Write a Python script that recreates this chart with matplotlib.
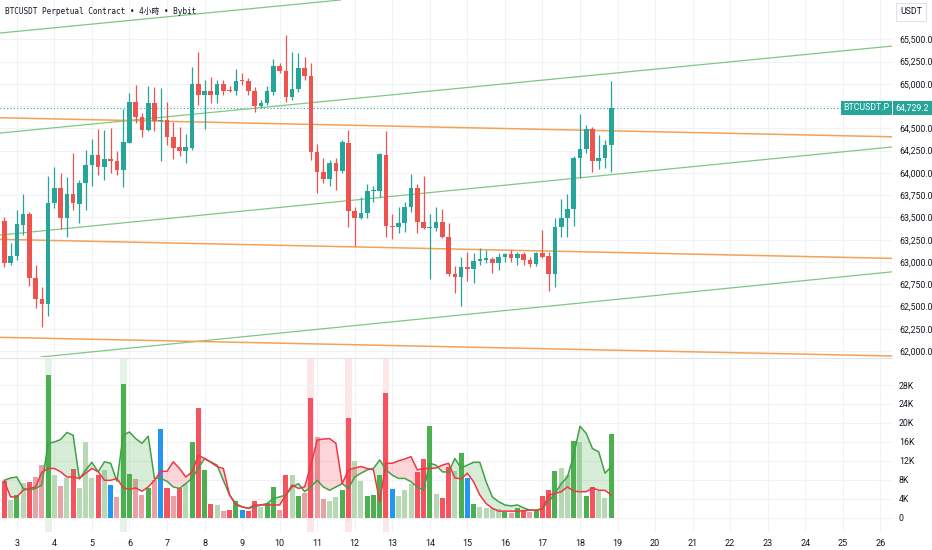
import numpy as np
import matplotlib.pyplot as plt

plt.rcParams['font.family'] = ['Roboto', 'DejaVu Sans']

# 4h candles, BTCUSDT.P
opens = [63463, 62985, 63067, 63415, 63538, 62823, 62587, 62528, 63658, 63834,
         63490, 63763, 63651, 63883, 64088, 64201, 64063, 64153, 64137, 64032,
         64339, 64799, 64624, 64481, 64788, 64586, 64593, 64406, 64287, 64249,
         64276, 64998, 64875, 64920, 64875, 64995, 64931, 64920, 65043, 65032,
         64920, 64751, 64781, 64912, 65200, 65147, 64855, 64938, 65174, 65088,
         64240, 64010, 63935, 64108, 64021, 64339, 63575, 63490, 63546, 63797,
         63797, 64201, 63407, 63389, 63441, 63614, 63834, 63449, 63378, 63384,
         63452, 63283, 62861, 62828, 62947, 62921, 63014, 63022, 63037, 62985,
         63059, 63089, 63048, 63089, 63022, 62977, 63104, 63067, 62865, 63389,
         63490, 63591, 64164, 64265, 64489, 64137, 64164, 64313]
highs = [63508, 63209, 63583, 63760, 63564, 62966, 62722, 63965, 64063, 63995,
         63957, 64220, 63920, 64257, 64377, 64489, 64482, 64501, 64249, 64714,
         64900, 64987, 64669, 64976, 64968, 64950, 64799, 64575, 64519, 64436,
         65192, 65361, 65043, 65073, 65043, 65043, 64976, 65163, 65125, 65062,
         64968, 64818, 64976, 65275, 65230, 65548, 65361, 65343, 65298, 65230,
         64328, 64164, 64145, 64164, 64369, 64481, 63620, 63733, 63872, 63853,
         64227, 64470, 63538, 63620, 63677, 63984, 63872, 63965, 63538, 63614,
         63591, 63441, 62954, 63052, 63115, 63104, 63153, 63134, 63059, 63104,
         63104, 63134, 63115, 63115, 63052, 63115, 63359, 63115, 63490, 63703,
         63763, 64190, 64661, 64538, 64512, 64425, 64369, 65032]
lows = [62947, 62966, 63022, 63302, 62730, 62479, 62266, 62396, 63602, 63370,
        63283, 63583, 63434, 63583, 63853, 63976, 63920, 63995, 63976, 63845,
        64332, 64557, 64406, 64474, 64474, 64133, 64313, 64153, 64190, 64114,
        64257, 64762, 64489, 64788, 64781, 64875, 64908, 64875, 64987, 64875,
        64687, 64725, 64762, 64875, 65125, 64799, 64818, 64912, 65043, 64145,
        63777, 63883, 63853, 63808, 64000, 63396, 63179, 63482, 63490, 63673,
        63733, 63283, 63254, 63328, 63340, 63564, 63322, 63367, 62805, 63347,
        63265, 62842, 62655, 62505, 62790, 62760, 62966, 62992, 62879, 62910,
        63003, 63003, 62966, 62966, 62940, 62954, 63041, 62677, 62715, 63283,
        63277, 63404, 63939, 64227, 64013, 64040, 64052, 64013]
closes = [62991, 63067, 63423, 63538, 62823, 62584, 62524, 63658, 63834, 63490,
          63763, 63658, 63883, 64088, 64201, 64063, 64153, 64130, 64032, 64343,
          64799, 64624, 64481, 64788, 64586, 64599, 64406, 64276, 64249, 64287,
          64998, 64875, 64920, 64875, 64995, 64920, 64916, 65035, 65028, 64920,
          64751, 64788, 64920, 65200, 65147, 64855, 64938, 65174, 65088, 64240,
          64007, 63935, 64108, 64021, 64350, 63575, 63497, 63553, 63797, 63808,
          64209, 63404, 63389, 63441, 63614, 63834, 63449, 63378, 63396, 63452,
          63283, 62861, 62828, 62947, 62921, 63014, 63030, 63041, 62985, 63059,
          63089, 63048, 63089, 63022, 62977, 63104, 63059, 62865, 63389, 63490,
          63591, 64164, 64265, 64489, 64137, 64164, 64313, 64729.2]

# volume in K and its colour code (G dark green, g light green, R red, r pink, B blue)
volume = [7.7, 3.7, 4.8, 7.4, 7.5, 8.6, 11.1, 30.1, 9.1, 6.8,
          8.3, 10.3, 6.2, 16.0, 8.3, 9.1, 10.1, 6.9, 4.4, 28.2,
          9.2, 8.2, 4.8, 6.3, 7.9, 18.8, 6.3, 4.6, 6.3, 7.2,
          16.0, 23.2, 10.1, 2.9, 2.7, 1.5, 1.6, 3.5, 1.6, 1.5,
          3.6, 2.3, 3.2, 6.5, 1.6, 9.1, 9.1, 4.6, 5.3, 25.2,
          17.0, 3.9, 3.5, 4.4, 5.8, 21.0, 12.0, 7.7, 4.6, 4.8,
          9.0, 26.4, 6.0, 4.6, 5.8, 7.2, 9.7, 12.5, 19.3, 5.0,
          4.2, 10.8, 9.8, 13.7, 8.3, 3.0, 2.3, 2.1, 2.0, 1.8,
          1.3, 1.1, 2.1, 1.4, 1.3, 1.6, 4.6, 5.8, 9.9, 10.4,
          9.1, 16.2, 15.9, 4.6, 6.5, 5.6, 4.1, 17.6]
vol_codes = list("RgGgRrrGgr" "gRgggRgBrG" "GrrGrBRrRg" "GRGRgrRGBR"
                 "RgGGrRgGrR" "rrggGRggGG" "GRBgggRRGg" "RRgGBGgggg"
                 "GrGRrGRRGg" "gGgGRggG")
green_ma = [7.9, 8.4, 8.6, 6.2, 5.8, 6.2, 6.9, 15.7, 16.0, 16.5,
            18.0, 17.4, 8.2, 10.1, 11.7, 9.7, 11.8, 11.5, 7.7, 17.4,
            18.1, 16.7, 15.7, 17.2, 8.3, 8.3, 7.7, 6.5, 6.2, 7.2,
            8.3, 10.4, 12.5, 11.8, 11.1, 7.9, 4.8, 3.0, 2.3, 2.0,
            2.3, 2.7, 3.0, 4.1, 4.4, 4.8, 6.5, 7.2, 5.5, 6.5,
            7.9, 6.5, 5.8, 6.5, 7.2, 6.2, 8.6, 9.4, 10.1, 10.4,
            12.2, 10.1, 9.0, 8.3, 8.3, 7.6, 6.5, 5.8, 11.5, 11.1,
            9.7, 9.6, 12.5, 10.5, 11.1, 11.7, 11.7, 7.6, 4.4, 3.4,
            2.7, 2.5, 2.7, 2.1, 1.6, 1.6, 2.0, 3.4, 5.1, 7.2,
            8.6, 13.2, 19.3, 17.8, 14.6, 13.9, 9.4, 10.8]
red_ma = [7.7, 4.4, 4.4, 5.8, 6.2, 6.5, 9.6, 10.4, 10.4, 9.7,
          8.6, 8.6, 8.3, 9.4, 10.4, 9.7, 7.9, 7.9, 8.3, 6.3,
          6.0, 6.3, 5.6, 6.5, 7.9, 9.8, 9.8, 11.8, 10.4, 8.6,
          9.7, 13.2, 12.5, 11.7, 10.8, 10.4, 4.8, 2.7, 2.3, 2.0,
          2.7, 2.7, 2.7, 2.7, 2.7, 4.8, 6.9, 6.2, 6.5, 11.1,
          16.4, 16.6, 16.7, 15.7, 7.2, 10.1, 10.5, 10.8, 10.4, 10.1,
          3.4, 11.5, 11.5, 12.0, 12.4, 12.9, 10.1, 10.4, 10.4, 10.5,
          11.1, 11.5, 8.4, 8.2, 9.4, 7.6, 4.8, 3.0, 2.0, 1.4,
          1.4, 1.4, 1.4, 1.5, 1.6, 1.6, 1.8, 4.8, 5.1, 5.5,
          6.5, 5.6, 5.5, 5.5, 6.3, 5.8, 5.8, 4.8]
spike_green = [7, 19]
spike_red = [49, 55, 61]

# drawn trend lines: price at bar 0 and at bar 140
green_lines = [(65575, 66529), (64452, 65411), (63307, 64278), (61892, 62876)]
orange_lines = [(64618, 64408), (63253, 63043), (62153, 61947)]

day_labels = [str(d) for d in range(3, 27)]
day_pos = [2 + 6 * k for k in range(len(day_labels))]

UP, DOWN = '#26a69a', '#ef5350'
GRID = '#f0f2f5'
TXT = '#131722'
vol_colors = {'G': '#4caf50', 'g': '#b6d9b4', 'R': '#f7525f', 'r': '#e8a2a5', 'B': '#2196f3'}

idx = np.arange(len(closes))
o = np.array(opens); c = np.array(closes)
h = np.array(highs); l = np.array(lows)
col = [UP if cc >= oo else DOWN for oo, cc in zip(o, c)]

fig = plt.figure(figsize=(9.32, 5.5), dpi=100)
ax = fig.add_axes([0, 193 / 550, 892 / 932, 357 / 550])
axv = fig.add_axes([0, 18 / 550, 892 / 932, 174 / 550], sharex=ax)

# price pane
ax.vlines(idx, l, h, colors=col, lw=0.9, zorder=3)
ax.bar(idx, np.maximum(np.abs(c - o), 8), bottom=np.minimum(o, c), width=0.74,
       color=col, zorder=4)
for p0, p1 in green_lines:
    ax.axline((0, p0), (140, p1), color='#81c784', lw=0.9, zorder=2)
for p0, p1 in orange_lines:
    ax.axline((0, p0), (140, p1), color='#f5a254', lw=1.1, zorder=2)
ax.axhline(closes[-1], color=UP, ls=(0, (1, 2)), lw=0.8, zorder=1)

ax.set_xlim(-0.69, 141.87)
ax.set_ylim(61933, 65941)
ticks = np.arange(62000, 65501, 250)
ax.set_yticks(ticks)
ax.set_yticklabels(['' if t == 64750 else f'{t:,.1f}' for t in ticks])
ax.yaxis.tick_right()
ax.tick_params(axis='y', length=0, pad=5, labelsize=6.3, labelcolor=TXT)
ax.tick_params(axis='x', length=0, labelbottom=False)
ax.grid(color=GRID, lw=0.8)
ax.set_axisbelow(True)
for s in ax.spines.values():
    s.set_visible(False)

ax.text(1.004, closes[-1], f'{closes[-1]:,.1f}', transform=ax.get_yaxis_transform(),
        ha='left', va='center', color='white', fontsize=6.3, clip_on=False,
        bbox=dict(boxstyle='square,pad=0.3', fc=UP, ec='none'))
ax.text(0.997, closes[-1], 'BTCUSDT.P', transform=ax.get_yaxis_transform(),
        ha='right', va='center', color='white', fontsize=6.3, clip_on=False,
        bbox=dict(boxstyle='square,pad=0.3', fc=UP, ec='none'))

fig.text(5 / 932, 1 - 12 / 550, 'BTCUSDT Perpetual Contract • 4小時 • Bybit',
         family=['DejaVu Sans Mono', 'Noto Sans CJK TC'], fontsize=5.6,
         color=TXT, va='center', ha='left')
fig.text(911 / 932, 1 - 12 / 550, 'USDT', fontsize=6.3, color=TXT, ha='center',
         va='center', bbox=dict(boxstyle='square,pad=0.5', fc='white', ec='#e0e3eb', lw=0.8))

# volume pane
for i in spike_green:
    axv.axvspan(i - 0.55, i + 0.55, color='#e6f4e7', lw=0, zorder=0)
for i in spike_red:
    axv.axvspan(i - 0.55, i + 0.55, color='#fde6e8', lw=0, zorder=0)
axv.bar(idx, volume, width=0.8, color=[vol_colors[k] for k in vol_codes], zorder=2)
gm = np.array(green_ma); rm = np.array(red_ma)
axv.fill_between(idx, gm, rm, where=gm >= rm, interpolate=True, color='#4caf50',
                 alpha=0.22, lw=0, zorder=3)
axv.fill_between(idx, gm, rm, where=gm < rm, interpolate=True, color='#f23645',
                 alpha=0.2, lw=0, zorder=3)
axv.plot(idx, gm, color='#43a047', lw=1.1, zorder=4)
axv.plot(idx, rm, color='#f23645', lw=1.1, zorder=4)

axv.set_ylim(-3.0, 33.7)
axv.set_yticks(range(0, 29, 4))
axv.set_yticklabels(['0'] + [f'{v}K' for v in range(4, 29, 4)])
axv.yaxis.tick_right()
axv.tick_params(axis='y', length=0, pad=5, labelsize=6.3, labelcolor=TXT)
axv.set_xticks(day_pos)
axv.set_xticklabels(day_labels)
axv.tick_params(axis='x', length=0, pad=5, labelsize=6.5, labelcolor=TXT)
axv.grid(color=GRID, lw=0.8)
axv.set_axisbelow(True)
for s in axv.spines.values():
    s.set_visible(False)
axv.spines['top'].set_visible(True)
axv.spines['top'].set_color('#e0e3eb')

fig.savefig('out.png', dpi=100, facecolor='white')
